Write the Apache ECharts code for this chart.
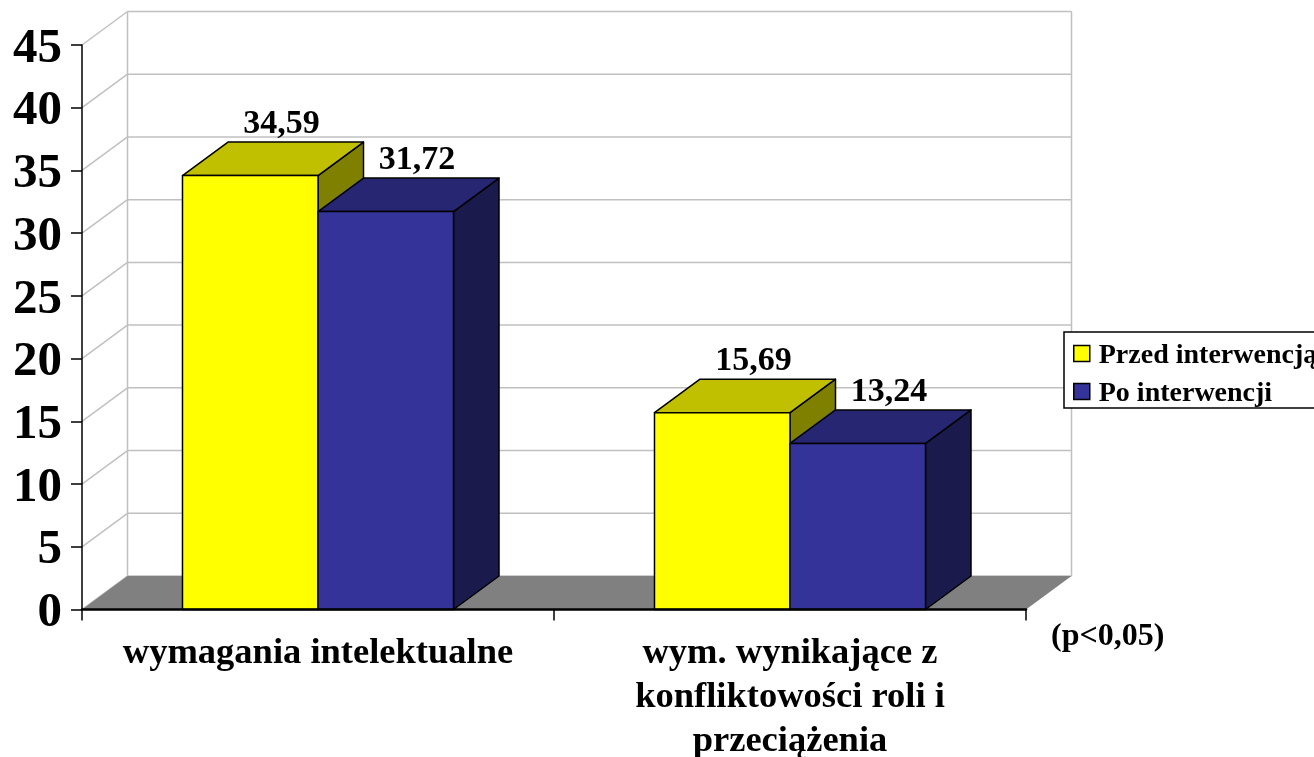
<!DOCTYPE html>
<html>
<head>
<meta charset="utf-8">
<style>
  html, body { margin: 0; padding: 0; background: #fff; overflow: hidden; }
  #chart-container { width: 1314px; height: 757px; }
</style>
</head>
<body>
<div id="chart-container"></div>
<script src="https://cdn.jsdelivr.net/npm/echarts@6/dist/echarts.min.js"></script>
<script>
var categories = ['wymagania intelektualne', 'wym. wynikające z\nkonfliktowości roli i\nprzeciążenia'];
var przed = [34.59, 15.69];
var po = [31.72, 13.24];
var yTicks = [0, 5, 10, 15, 20, 25, 30, 35, 40, 45];

var serif = '"Liberation Serif", "Times New Roman", serif';
var depthX = 45.5;
var depthY = 33.5;
var barShare = 0.2871;

var dom = document.getElementById('chart-container');
var myChart = echarts.init(dom, null, { renderer: 'canvas' });

// left and right end of the category axis at a given value
function axisEnds(api, v) {
  var half = api.size([1, 0])[0] / 2;
  var a = api.coord([0, v]);
  var b = api.coord([categories.length - 1, v]);
  return [[a[0] - half, a[1]], [b[0] + half, b[1]]];
}

// floor of the 3d box
function renderFloor(params, api) {
  var ends = axisEnds(api, api.value(1));
  var a = ends[0];
  var b = ends[1];
  return {
    type: 'polygon',
    shape: { points: [a, b, [b[0] + depthX, b[1] - depthY], [a[0] + depthX, a[1] - depthY]] },
    style: { fill: '#808080', stroke: null }
  };
}

// one gridline: diagonal on the side wall, then across the back wall
function renderGrid(params, api) {
  var v = api.value(1);
  var ends = axisEnds(api, v);
  var p = ends[0];
  var q = ends[1];
  var bx = p[0] + depthX;
  var by = p[1] - depthY;
  var line = { stroke: '#c0c0c0', lineWidth: 1.5 };
  var kids = [
    { type: 'line', shape: { x1: p[0], y1: p[1], x2: bx, y2: by }, style: line },
    { type: 'line', shape: { x1: bx, y1: by, x2: q[0] + depthX, y2: by }, style: line }
  ];
  if (v === 0) {
    // the two upright wall edges
    var top = api.coord([0, yTicks[yTicks.length - 1]])[1] - depthY;
    kids.push({ type: 'line', shape: { x1: bx, y1: by, x2: bx, y2: top }, style: line });
    kids.push({ type: 'line', shape: { x1: q[0] + depthX, y1: by, x2: q[0] + depthX, y2: top }, style: line });
  }
  return { type: 'group', children: kids };
}

function barRenderer(side, front, topFace, sideFace) {
  return function (params, api) {
    var val = api.value(1);
    var c = api.coord([api.value(0), val]);
    var base = api.coord([api.value(0), 0]);
    var w = api.size([1, 0])[0] * barShare;
    var x0 = side === 0 ? c[0] - w : c[0];
    var x1 = x0 + w;
    var edge = { stroke: '#000', lineWidth: 1.5, lineJoin: 'round' };
    return {
      type: 'group',
      children: [
        {
          type: 'polygon',
          shape: { points: [[x1, c[1]], [x1 + depthX, c[1] - depthY], [x1 + depthX, base[1] - depthY], [x1, base[1]]] },
          style: Object.assign({ fill: sideFace }, edge)
        },
        {
          type: 'polygon',
          shape: { points: [[x0, c[1]], [x0 + depthX, c[1] - depthY], [x1 + depthX, c[1] - depthY], [x1, c[1]]] },
          style: Object.assign({ fill: topFace }, edge)
        },
        {
          type: 'rect',
          shape: { x: x0, y: c[1], width: w, height: base[1] - c[1] },
          style: Object.assign({ fill: front }, edge)
        },
        {
          type: 'text',
          z2: 50,
          style: {
            text: val.toFixed(2).replace('.', ','),
            x: x0 + 99,
            y: c[1] - depthY - 18,
            align: 'center',
            verticalAlign: 'middle',
            fill: '#000',
            font: 'bold 34px ' + serif
          }
        }
      ]
    };
  };
}

var option = {
  animation: false,
  title: {
    text: '(p<0,05)',
    left: 1051,
    top: 621,
    padding: 0,
    textStyle: { fontFamily: serif, fontWeight: 'bold', fontSize: 32, color: '#000' }
  },
  legend: {
    data: ['Przed interwencją', 'Po interwencji'],
    orient: 'vertical',
    left: 1064,
    top: 332,
    width: 280,
    padding: [10, 60, 0, 9],
    align: 'left',
    icon: 'rect',
    itemWidth: 16,
    itemHeight: 16,
    itemGap: 10,
    backgroundColor: '#fff',
    borderColor: '#000',
    borderWidth: 1.5,
    itemStyle: { borderColor: '#000', borderWidth: 1.5 },
    formatter: '{t|{name}}',
    textStyle: {
      fontFamily: serif,
      fontWeight: 'bold',
      fontSize: 28,
      color: '#000',
      rich: {
        t: { fontFamily: serif, fontWeight: 'bold', fontSize: 28, color: '#000', padding: [5, 0, 0, 4] }
      }
    }
  },
  grid: { left: 82, top: 45, right: 288, height: 564.5, outerBoundsMode: 'none' },
  xAxis: {
    type: 'category',
    data: categories,
    z: 10,
    axisLine: { lineStyle: { color: '#000', width: 2.5 } },
    axisTick: { show: true, interval: 0, alignWithLabel: false, length: 11, lineStyle: { color: '#000', width: 1.5 } },
    axisLabel: {
      show: true,
      interval: 0,
      hideOverlap: false,
      margin: 22,
      lineHeight: 44,
      fontFamily: serif,
      fontWeight: 'bold',
      fontSize: 36.5,
      color: '#000'
    }
  },
  yAxis: {
    type: 'value',
    min: 0,
    max: 45,
    interval: 5,
    z: 10,
    splitLine: { show: false },
    axisLine: { show: true, lineStyle: { color: '#000', width: 1.5 } },
    axisTick: { show: true, length: 11, lineStyle: { color: '#000', width: 1.5 } },
    axisLabel: {
      margin: 20,
      verticalAlign: 'top',
      lineHeight: 8,
      fontFamily: serif,
      fontWeight: 'bold',
      fontSize: 49,
      color: '#000'
    }
  },
  series: [
    {
      type: 'custom',
      name: 'grid',
      silent: true,
      z: 1,
      encode: { x: 0, y: 1 },
      data: yTicks.map(function (t) { return [0, t]; }),
      renderItem: renderGrid
    },
    {
      type: 'custom',
      name: 'floor',
      silent: true,
      z: 1,
      encode: { x: 0, y: 1 },
      data: [[0, 0]],
      renderItem: renderFloor
    },
    {
      type: 'custom',
      name: 'Przed interwencją',
      z: 3,
      itemStyle: { color: '#ffff00' },
      encode: { x: 0, y: 1 },
      data: przed.map(function (v, i) { return [i, v]; }),
      renderItem: barRenderer(0, '#ffff00', '#c0c000', '#808000')
    },
    {
      type: 'custom',
      name: 'Po interwencji',
      z: 4,
      itemStyle: { color: '#333399' },
      encode: { x: 0, y: 1 },
      data: po.map(function (v, i) { return [i, v]; }),
      renderItem: barRenderer(1, '#333399', '#262673', '#1a1a4d')
    }
  ]
};

myChart.setOption(option);
window.addEventListener('resize', myChart.resize);
</script>
</body>
</html>
